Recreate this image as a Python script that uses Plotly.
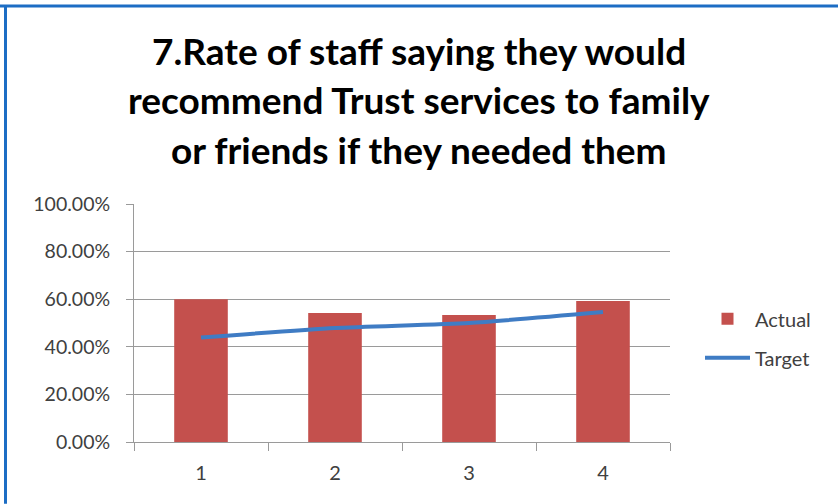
import plotly.graph_objects as go

# Survey periods and results
categories = ["1", "2", "3", "4"]
actual = [0.600, 0.542, 0.534, 0.592]
target = [0.439, 0.479, 0.500, 0.546]
y_ticks = [0.0, 0.2, 0.4, 0.6, 0.8, 1.0]
title_lines = [
    "7.Rate of staff saying they would",
    "recommend Trust services to family",
    "or friends if they needed them",
]

W, H = 838, 504
L, R, T, B = 134, 168, 203.5, 62
plot_h = H - T - B
plot_w = W - L - R


def py(pixel_y):
    """Pixel row -> paper y."""
    return (H - B - pixel_y) / plot_h


def px(pixel_x):
    """Pixel column -> paper x."""
    return (pixel_x - L) / plot_w


text_color = "#404040"
grid_color = "#9a9a9a"
font_family = "Lato, 'Open Sans', sans-serif"

fig = go.Figure()
fig.add_trace(go.Bar(
    x=categories, y=actual, name="Actual",
    marker=dict(color="#C4504D", line=dict(width=0)),
    width=0.4, legendgroup="a",
))
fig.add_trace(go.Scatter(
    x=categories, y=target, name="Target", mode="lines",
    line=dict(color="#3F7CC4", width=4, shape="spline", smoothing=0.6),
    legendgroup="t",
))

annotations = []
for line, yc in zip(title_lines, [50, 99, 149]):
    annotations.append(dict(
        text=line, xref="paper", yref="paper", x=px(W / 2), y=py(yc),
        xanchor="center", yanchor="middle", showarrow=False,
        font=dict(family=font_family, size=37, color="#000000", weight="bold"),
    ))

fig.update_layout(
    width=W, height=H,
    margin=dict(l=L, r=R, t=T, b=B, pad=0),
    paper_bgcolor="white", plot_bgcolor="white",
    font=dict(family=font_family, size=19, color=text_color),
    showlegend=True,
    legend=dict(
        x=px(700), y=py(299), xanchor="left", yanchor="top",
        traceorder="grouped", tracegroupgap=10, itemwidth=45,
        font=dict(size=20, color=text_color), bgcolor="rgba(0,0,0,0)",
    ),
    annotations=annotations,
    shapes=[
        # blue frame along the top and left edges
        dict(type="line", xref="paper", yref="paper",
             x0=px(0), x1=px(W), y0=py(5), y1=py(5),
             line=dict(color="#1C6DC4", width=3)),
        dict(type="line", xref="paper", yref="paper",
             x0=px(5.5), x1=px(5.5), y0=py(5), y1=py(H),
             line=dict(color="#1C6DC4", width=3)),
    ],
    xaxis=dict(
        type="category", showgrid=False, showline=True, linecolor=grid_color,
        linewidth=1, ticks="outside", tickson="boundaries", ticklen=8,
        tickcolor=grid_color, ticklabelstandoff=13,
        tickfont=dict(size=20, color=text_color),
    ),
    yaxis=dict(
        range=[0, 1], tickvals=y_ticks, tickformat=".2%",
        showgrid=True, gridcolor=grid_color, gridwidth=1,
        showline=True, linecolor=grid_color, linewidth=1,
        ticks="outside", ticklen=7, tickcolor=grid_color,
        ticklabelstandoff=12, zeroline=False,
        tickfont=dict(size=19.5, color=text_color),
    ),
)

fig.write_html("out.html")
